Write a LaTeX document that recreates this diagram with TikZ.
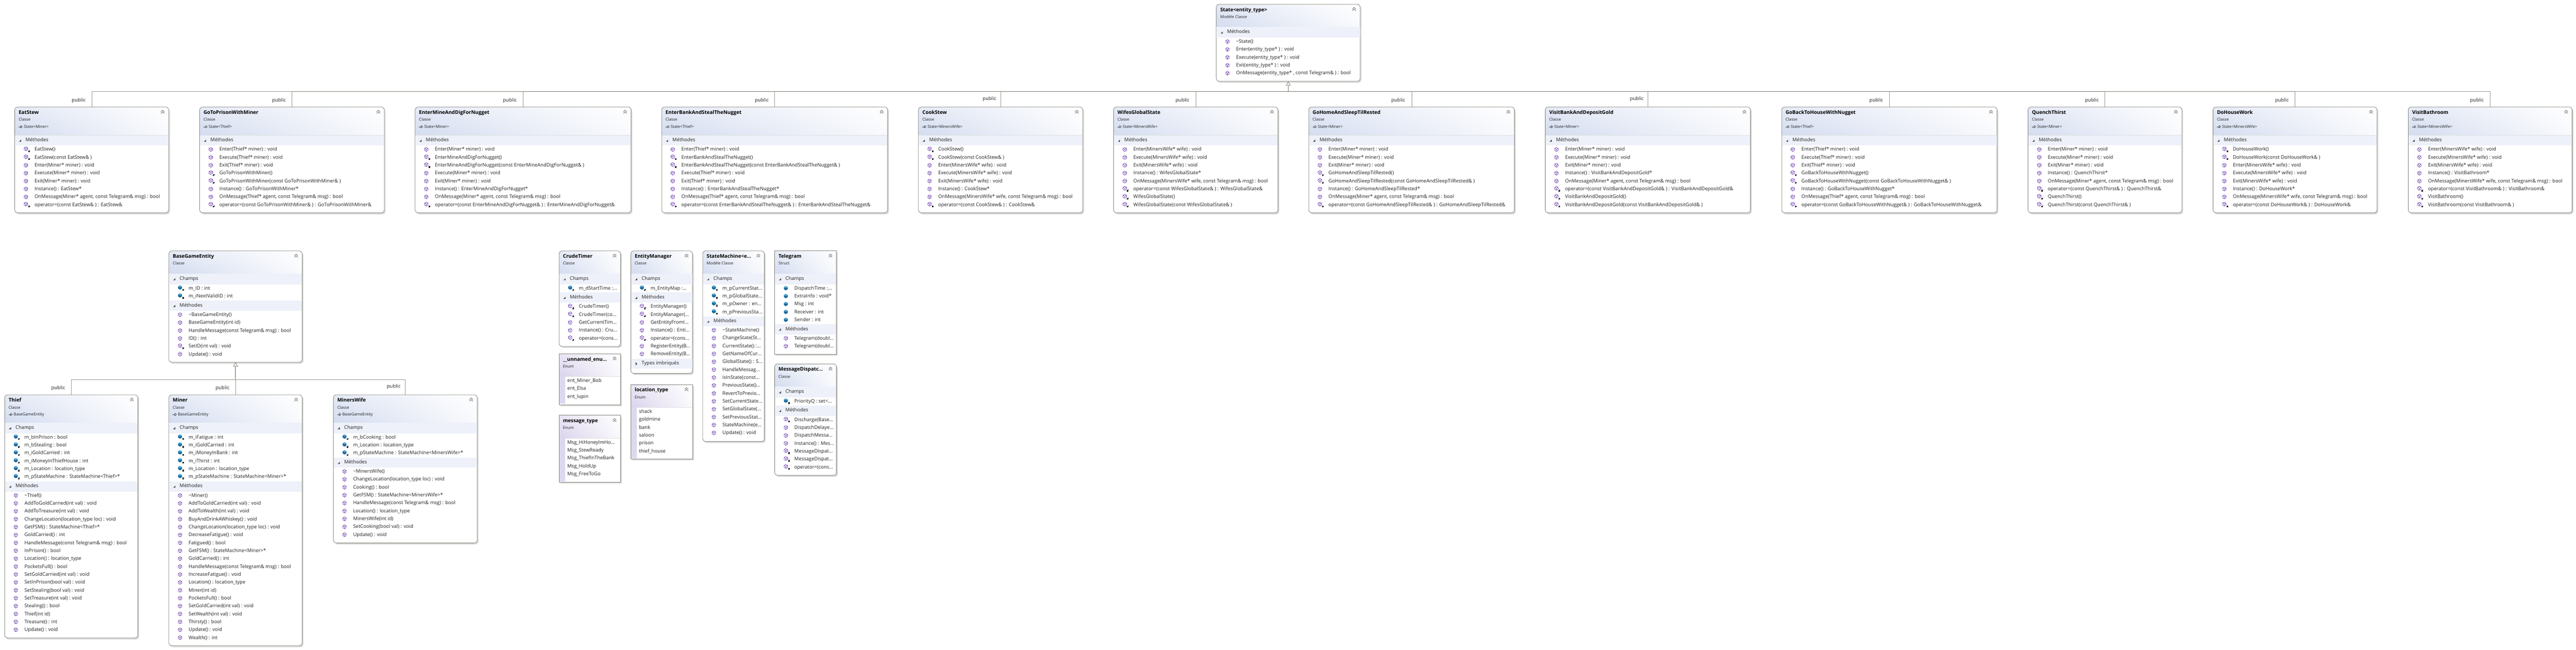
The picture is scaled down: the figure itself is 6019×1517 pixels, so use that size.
\documentclass[tikz,border=0pt]{standalone}
\usepackage{fontspec}
\setmainfont{Open Sans}
\usetikzlibrary{arrows.meta,shadings}
\definecolor{shadowc}{HTML}{D9D9D9}
\definecolor{borderc}{HTML}{85857C}
\definecolor{connc}{HTML}{7A7A70}
\definecolor{bandc}{HTML}{EEF1F9}
\definecolor{hdrblue}{HTML}{D3DCEF}
\definecolor{hdrbluemid}{HTML}{E5EAF6}
\definecolor{hdrlilac}{HTML}{DAD3EC}
\definecolor{hdrlilacmid}{HTML}{E9E5F4}
\definecolor{striplilac}{HTML}{DCD8EE}
\definecolor{methc}{HTML}{6A3AAE}
\definecolor{fieldc}{HTML}{14699F}
\definecolor{fieldl}{HTML}{5BA6D2}
\definecolor{txtc}{HTML}{202020}
\newcounter{tc}
\tikzset{
  x=1pt,y=-1pt,
  boxborder/.style={draw=borderc,line width=1pt,inner sep=0pt,outer sep=0pt},
  rowtext/.style={anchor=mid west,inner sep=0pt,text=txtc,font=\fontsize{11.4}{14}\selectfont},
  titletext/.style={anchor=mid west,inner sep=0pt,text=black,font=\fontsize{11.7}{14}\selectfont\bfseries},
  subtext/.style={anchor=mid west,inner sep=0pt,text=txtc,font=\fontsize{9.3}{12}\selectfont},
  pubtext/.style={anchor=center,inner sep=0pt,text=txtc,font=\fontsize{11.4}{14}\selectfont},
  conn/.style={draw=connc,line width=.9pt,draw opacity=.75},
  inherit/.style={conn,line width=1.4pt,draw opacity=1,-{Triangle[open,length=10pt,width=11pt,fill=white,line width=.9pt]}},
  micon/.style={draw=methc,line width=.8pt},
}
\newcommand\boxcore[9]{%
  \def\bxa{#2}\def\bya{#3}\def\bxb{#4}\def\byb{#5}%
  \pgfmathsetmacro\bw{#4-#2}\pgfmathsetmacro\bh{#5-#3}%
  \fill[shadowc,rounded corners=#7] (#2+3,#3+3.5) rectangle (#4+3,#5+3.5);
  \fill[white,rounded corners=#7] (#2,#3) rectangle (#4,#5);
  \begin{scope}
    \clip[rounded corners=#7] (#2,#3) rectangle (#4,#5);
    \shade[lower left=#8,upper left=#9,lower right=#9!25!white,upper right=white] (#2,#3) rectangle (#4,#6);
  \end{scope}
  \node[boxborder,rounded corners=#7,minimum width=\bw pt,minimum height=\bh pt] (#1) at ({(#2+#4)/2},{(#3+#5)/2}) {};
  \draw[black!12,line width=.6pt] (#2+.6,#6) -- (#4-.6,#6);
  \draw[black!55,line width=1.1pt] (#4-18,#3+11) -- (#4-14,#3+7.5) -- (#4-10,#3+11) (#4-18,#3+15) -- (#4-14,#3+11.5) -- (#4-10,#3+15);
}
\newcommand\tx[4]{\stepcounter{tc}\node[#1] (t\arabic{tc}) at (#2,#3) {#4};}
\newcommand\heading[2]{\tx{titletext}{\bxa+9}{\bya+14}{#1}\tx{subtext}{\bxa+9}{\bya+30}{#2}}
% rounded class box: name x1 y1 x2 y2 hdrbottom title sub
\newcommand\ubox[8]{\boxcore{#1}{#2}{#3}{#4}{#5}{#6}{7pt}{hdrblue}{hdrbluemid}\heading{#7}{#8}}
\newcommand\squarebox[8]{\boxcore{#1}{#2}{#3}{#4}{#5}{#6}{0pt}{hdrblue}{hdrbluemid}\heading{#7}{#8}}
\newcommand\enumbox[8]{\boxcore{#1}{#2}{#3}{#4}{#5}{#6}{0pt}{hdrlilac}{hdrlilacmid}%
  \fill[striplilac] (#2+.6,#6) rectangle (#2+14,#5-2);
  \heading{#7}{#8}\pgfmathsetmacro\cy{#6+11}}
\newcommand\inh[1]{%
  \draw[black!80,line width=.7pt] (\bxa+9,\bya+46) -- (\bxa+14,\bya+46);
  \draw[black!80,line width=.7pt] (\bxa+14,\bya+43) -- (\bxa+18,\bya+46) -- (\bxa+14,\bya+49) -- cycle;
  \tx{subtext}{\bxa+21}{\bya+46}{#1}}
\newcommand\band[3]{%
  \fill[bandc] (\bxa+.6,#1) rectangle (\bxb-.6,#2);
  \fill[black!70] (\bxa+10,{(#1+#2)/2+3}) -- (\bxa+15,{(#1+#2)/2+3}) -- (\bxa+15,{(#1+#2)/2-2}) -- cycle;
  \tx{rowtext}{\bxa+25}{{(#1+#2)/2}}{#3}\pgfmathsetmacro\cy{#2+10}}
\newcommand\bandc[3]{%
  \fill[bandc] (\bxa+.6,#1) rectangle (\bxb-.6,#2);
  \fill[black!70] (\bxa+11,{(#1+#2)/2-4}) -- (\bxa+15,{(#1+#2)/2}) -- (\bxa+11,{(#1+#2)/2+4}) -- cycle;
  \tx{rowtext}{\bxa+25}{{(#1+#2)/2}}{#3}}
\newcommand\methicon[2]{%
  \draw[micon,shift={(#1,#2)}] (0,-4.6) -- (4,-2.3) -- (4,2.3) -- (0,4.6) -- (-4,2.3) -- (-4,-2.3) -- cycle (-4,-2.3) -- (0,0) -- (4,-2.3) (0,0) -- (0,4.6);}
\newcommand\fieldicon[2]{%
  \fill[fieldc,shift={(#1,#2)}] (0,-5) -- (4.4,-2.5) -- (4.4,2.5) -- (0,5) -- (-4.4,2.5) -- (-4.4,-2.5) -- cycle;
  \fill[fieldl,shift={(#1,#2)}] (0,-5) -- (4.4,-2.5) -- (0,0) -- (-4.4,-2.5) -- cycle;}
\newcommand\lockicon[2]{%
  \fill[black!85,shift={(#1,#2)}] (-1.8,0) rectangle (1.8,2.8);
  \draw[black!85,line width=.5pt,shift={(#1,#2)}] (-1,0) -- (-1,-1.2) -- (1,-1.2) -- (1,0);}
\newcommand\nextrow{\pgfmathsetmacro\cy{\cy+18.45}}
\newcommand\rowM[1]{\methicon{\bxa+26}{\cy-1}\tx{rowtext}{\bxa+46}{\cy}{#1}\nextrow}
\newcommand\rowP[1]{\methicon{\bxa+26}{\cy-2.5}\lockicon{\bxa+33}{\cy+2.5}\tx{rowtext}{\bxa+46}{\cy}{#1}\nextrow}
\newcommand\rowF[1]{\fieldicon{\bxa+26}{\cy-1}\tx{rowtext}{\bxa+46}{\cy}{#1}\nextrow}
\newcommand\rowG[1]{\fieldicon{\bxa+26}{\cy-2.5}\lockicon{\bxa+33}{\cy+2.5}\tx{rowtext}{\bxa+46}{\cy}{#1}\nextrow}
\newcommand\rowE[1]{\tx{rowtext}{\bxa+19}{\cy}{#1}\nextrow}
\newcommand\topbox[6]{\ubox{#1}{#2}{250}{#3}{497}{316}{#4}{Classe}\inh{#5}\band{316}{340}{Méthodes}#6}
\newcommand\lbl[3]{\tx{pubtext}{#1}{#2}{#3}}
\begin{document}
\begin{tikzpicture}
\useasboundingbox (0,0) rectangle (6019,1517);
\fill[white] (0,0) rectangle (6019,1517);

% ---------- State template
\ubox{State}{2842}{10}{3178}{190}{63}{State<entity\_type>}{Modèle Classe}
\band{63}{88}{Méthodes}
\rowM{\textasciitilde State()}
\rowM{Enter(entity\_type* ) : void}
\rowM{Execute(entity\_type* ) : void}
\rowM{Exit(entity\_type* ) : void}
\rowM{OnMessage(entity\_type* , const Telegram\& ) : bool}

% ---------- concrete states
\topbox{EatStew}{34.5}{394}{EatStew}{State<Miner>}{%
\rowP{EatStew()}
\rowP{EatStew(const EatStew\& )}
\rowM{Enter(Miner* miner) : void}
\rowM{Execute(Miner* miner) : void}
\rowM{Exit(Miner* miner) : void}
\rowM{Instance() : EatStew*}
\rowM{OnMessage(Miner* agent, const Telegram\& msg) : bool}
\rowP{operator=(const EatStew\& ) : EatStew\&}}

\topbox{GoToPrison}{466.5}{898}{GoToPrisonWithMiner}{State<Thief>}{%
\rowM{Enter(Thief* miner) : void}
\rowM{Execute(Thief* miner) : void}
\rowM{Exit(Thief* miner) : void}
\rowP{GoToPrisonWithMiner()}
\rowP{GoToPrisonWithMiner(const GoToPrisonWithMiner\& )}
\rowM{Instance() : GoToPrisonWithMiner*}
\rowM{OnMessage(Thief* agent, const Telegram\& msg) : bool}
\rowP{operator=(const GoToPrisonWithMiner\& ) : GoToPrisonWithMiner\&}}

\topbox{EnterMine}{970}{1474.5}{EnterMineAndDigForNugget}{State<Miner>}{%
\rowM{Enter(Miner* miner) : void}
\rowP{EnterMineAndDigForNugget()}
\rowP{EnterMineAndDigForNugget(const EnterMineAndDigForNugget\& )}
\rowM{Execute(Miner* miner) : void}
\rowM{Exit(Miner* miner) : void}
\rowM{Instance() : EnterMineAndDigForNugget*}
\rowM{OnMessage(Miner* agent, const Telegram\& msg) : bool}
\rowP{operator=(const EnterMineAndDigForNugget\& ) : EnterMineAndDigForNugget\&}}

\topbox{EnterBank}{1546}{2074}{EnterBankAndStealTheNugget}{State<Thief>}{%
\rowM{Enter(Thief* miner) : void}
\rowP{EnterBankAndStealTheNugget()}
\rowP{EnterBankAndStealTheNugget(const EnterBankAndStealTheNugget\& )}
\rowM{Execute(Thief* miner) : void}
\rowM{Exit(Thief* miner) : void}
\rowM{Instance() : EnterBankAndStealTheNugget*}
\rowM{OnMessage(Thief* agent, const Telegram\& msg) : bool}
\rowP{operator=(const EnterBankAndStealTheNugget\& ) : EnterBankAndStealTheNugget\&}}

\topbox{CookStew}{2146}{2530}{CookStew}{State<MinersWife>}{%
\rowP{CookStew()}
\rowP{CookStew(const CookStew\& )}
\rowM{Enter(MinersWife* wife) : void}
\rowM{Execute(MinersWife* wife) : void}
\rowM{Exit(MinersWife* wife) : void}
\rowM{Instance() : CookStew*}
\rowM{OnMessage(MinersWife* wife, const Telegram\& msg) : bool}
\rowP{operator=(const CookStew\& ) : CookStew\&}}

\topbox{WifesGlobal}{2602}{2986}{WifesGlobalState}{State<MinersWife>}{%
\rowM{Enter(MinersWife* wife) : void}
\rowM{Execute(MinersWife* wife) : void}
\rowM{Exit(MinersWife* wife) : void}
\rowM{Instance() : WifesGlobalState*}
\rowM{OnMessage(MinersWife* wife, const Telegram\& msg) : bool}
\rowP{operator=(const WifesGlobalState\& ) : WifesGlobalState\&}
\rowP{WifesGlobalState()}
\rowP{WifesGlobalState(const WifesGlobalState\& )}}

\topbox{GoHome}{3058}{3538.5}{GoHomeAndSleepTilRested}{State<Miner>}{%
\rowM{Enter(Miner* miner) : void}
\rowM{Execute(Miner* miner) : void}
\rowM{Exit(Miner* miner) : void}
\rowP{GoHomeAndSleepTilRested()}
\rowP{GoHomeAndSleepTilRested(const GoHomeAndSleepTilRested\& )}
\rowM{Instance() : GoHomeAndSleepTilRested*}
\rowM{OnMessage(Miner* agent, const Telegram\& msg) : bool}
\rowP{operator=(const GoHomeAndSleepTilRested\& ) : GoHomeAndSleepTilRested\&}}

\topbox{VisitBank}{3610.6}{4090}{VisitBankAndDepositGold}{State<Miner>}{%
\rowM{Enter(Miner* miner) : void}
\rowM{Execute(Miner* miner) : void}
\rowM{Exit(Miner* miner) : void}
\rowM{Instance() : VisitBankAndDepositGold*}
\rowM{OnMessage(Miner* agent, const Telegram\& msg) : bool}
\rowP{operator=(const VisitBankAndDepositGold\& ) : VisitBankAndDepositGold\&}
\rowP{VisitBankAndDepositGold()}
\rowP{VisitBankAndDepositGold(const VisitBankAndDepositGold\& )}}

\topbox{GoBack}{4163}{4666}{GoBackToHouseWithNugget}{State<Thief>}{%
\rowM{Enter(Thief* miner) : void}
\rowM{Execute(Thief* miner) : void}
\rowM{Exit(Thief* miner) : void}
\rowP{GoBackToHouseWithNugget()}
\rowP{GoBackToHouseWithNugget(const GoBackToHouseWithNugget\& )}
\rowM{Instance() : GoBackToHouseWithNugget*}
\rowM{OnMessage(Thief* agent, const Telegram\& msg) : bool}
\rowP{operator=(const GoBackToHouseWithNugget\& ) : GoBackToHouseWithNugget\&}}

\topbox{Quench}{4738.7}{5098}{QuenchThirst}{State<Miner>}{%
\rowM{Enter(Miner* miner) : void}
\rowM{Execute(Miner* miner) : void}
\rowM{Exit(Miner* miner) : void}
\rowM{Instance() : QuenchThirst*}
\rowM{OnMessage(Miner* agent, const Telegram\& msg) : bool}
\rowP{operator=(const QuenchThirst\& ) : QuenchThirst\&}
\rowP{QuenchThirst()}
\rowP{QuenchThirst(const QuenchThirst\& )}}

\topbox{DoHouse}{5171}{5554}{DoHouseWork}{State<MinersWife>}{%
\rowP{DoHouseWork()}
\rowP{DoHouseWork(const DoHouseWork\& )}
\rowM{Enter(MinersWife* wife) : void}
\rowM{Execute(MinersWife* wife) : void}
\rowM{Exit(MinersWife* wife) : void}
\rowM{Instance() : DoHouseWork*}
\rowM{OnMessage(MinersWife* wife, const Telegram\& msg) : bool}
\rowP{operator=(const DoHouseWork\& ) : DoHouseWork\&}}

\topbox{VisitBath}{5627}{6010}{VisitBathroom}{State<MinersWife>}{%
\rowM{Enter(MinersWife* wife) : void}
\rowM{Execute(MinersWife* wife) : void}
\rowM{Exit(MinersWife* wife) : void}
\rowM{Instance() : VisitBathroom*}
\rowM{OnMessage(MinersWife* wife, const Telegram\& msg) : bool}
\rowP{operator=(const VisitBathroom\& ) : VisitBathroom\&}
\rowP{VisitBathroom()}
\rowP{VisitBathroom(const VisitBathroom\& )}}

% ---------- entity classes
\ubox{Base}{394.6}{586}{706}{846}{639}{BaseGameEntity}{Classe}
\band{639}{664}{Champs}
\rowG{m\_ID : int}
\rowG{m\_iNextValidID : int}
\band{702}{726}{Méthodes}
\rowM{\textasciitilde BaseGameEntity()}
\rowM{BaseGameEntity(int id)}
\rowM{HandleMessage(const Telegram\& msg) : bool}
\rowM{ID() : int}
\rowP{SetID(int val) : void}
\rowM{Update() : void}

\ubox{Thief}{11}{922}{322}{1490}{987}{Thief}{Classe}
\inh{BaseGameEntity}
\band{987}{1012}{Champs}
\rowG{m\_bInPrison : bool}
\rowG{m\_bStealing : bool}
\rowG{m\_iGoldCarried : int}
\rowG{m\_iMoneyInThiefHouse : int}
\rowG{m\_Location : location\_type}
\rowG{m\_pStateMachine : StateMachine<Thief>*}
\band{1124}{1148}{Méthodes}
\rowM{\textasciitilde Thief()}
\rowM{AddToGoldCarried(int val) : void}
\rowM{AddToTreasure(int val) : void}
\rowM{ChangeLocation(location\_type loc) : void}
\rowM{GetFSM() : StateMachine<Thief>*}
\rowM{GoldCarried() : int}
\rowM{HandleMessage(const Telegram\& msg) : bool}
\rowM{InPrison() : bool}
\rowM{Location() : location\_type}
\rowM{PocketsFull() : bool}
\rowM{SetGoldCarried(int val) : void}
\rowM{SetInPrison(bool val) : void}
\rowM{SetStealing(bool val) : void}
\rowM{SetTreasure(int val) : void}
\rowM{Stealing() : bool}
\rowM{Thief(int id)}
\rowM{Treasure() : int}
\rowM{Update() : void}

\ubox{Miner}{394.6}{922}{706}{1508}{987}{Miner}{Classe}
\inh{BaseGameEntity}
\band{987}{1012}{Champs}
\rowG{m\_iFatigue : int}
\rowG{m\_iGoldCarried : int}
\rowG{m\_iMoneyInBank : int}
\rowG{m\_iThirst : int}
\rowG{m\_Location : location\_type}
\rowG{m\_pStateMachine : StateMachine<Miner>*}
\band{1124}{1148}{Méthodes}
\rowM{\textasciitilde Miner()}
\rowM{AddToGoldCarried(int val) : void}
\rowM{AddToWealth(int val) : void}
\rowM{BuyAndDrinkAWhiskey() : void}
\rowM{ChangeLocation(location\_type loc) : void}
\rowM{DecreaseFatigue() : void}
\rowM{Fatigued() : bool}
\rowM{GetFSM() : StateMachine<Miner>*}
\rowM{GoldCarried() : int}
\rowM{HandleMessage(const Telegram\& msg) : bool}
\rowM{IncreaseFatigue() : void}
\rowM{Location() : location\_type}
\rowM{Miner(int id)}
\rowM{PocketsFull() : bool}
\rowM{SetGoldCarried(int val) : void}
\rowM{SetWealth(int val) : void}
\rowM{Thirsty() : bool}
\rowM{Update() : void}
\rowM{Wealth() : int}

\ubox{Wife}{779}{922}{1115}{1268}{987}{MinersWife}{Classe}
\inh{BaseGameEntity}
\band{987}{1012}{Champs}
\rowG{m\_bCooking : bool}
\rowG{m\_Location : location\_type}
\rowG{m\_pStateMachine : StateMachine<MinersWife>*}
\band{1069}{1092}{Méthodes}
\rowM{\textasciitilde MinersWife()}
\rowM{ChangeLocation(location\_type loc) : void}
\rowM{Cooking() : bool}
\rowM{GetFSM() : StateMachine<MinersWife>*}
\rowM{HandleMessage(const Telegram\& msg) : bool}
\rowM{Location() : location\_type}
\rowM{MinersWife(int id)}
\rowM{SetCooking(bool val) : void}
\rowM{Update() : void}

% ---------- utility classes
\ubox{Crude}{1306.4}{586}{1450}{809}{639}{CrudeTimer}{Classe}
\band{639}{664}{Champs}
\rowG{m\_dStartTime :...}
\band{683}{707}{Méthodes}
\rowP{CrudeTimer()}
\rowP{CrudeTimer(co...}
\rowM{GetCurrentTim...}
\rowM{Instance() : Cru...}
\rowP{operator=(cons...}

\ubox{EntityMgr}{1474}{586}{1618}{872}{639}{EntityManager}{Classe}
\band{639}{664}{Champs}
\rowG{m\_EntityMap :...}
\band{683}{707}{Méthodes}
\rowP{EntityManager()}
\rowP{EntityManager(...}
\rowM{GetEntityFromI...}
\rowM{Instance() : Enti...}
\rowP{operator=(cons...}
\rowM{RegisterEntity(B...}
\rowM{RemoveEntity(B...}
\bandc{838}{861}{Types imbriqués}

\ubox{StateMachine}{1642}{586}{1786}{1031}{639}{StateMachine<e...}{Modèle Classe}
\band{639}{664}{Champs}
\rowG{m\_pCurrentStat...}
\rowG{m\_pGlobalState...}
\rowG{m\_pOwner : en...}
\rowG{m\_pPreviousSta...}
\band{739}{762}{Méthodes}
\rowM{\textasciitilde StateMachine()}
\rowM{ChangeState(St...}
\rowM{CurrentState() :...}
\rowM{GetNameOfCur...}
\rowM{GlobalState() : S...}
\rowM{HandleMessag...}
\rowM{isInState(const...}
\rowM{PreviousState()...}
\rowM{RevertToPrevio...}
\rowM{SetCurrentState...}
\rowM{SetGlobalState(...}
\rowM{SetPreviousStat...}
\rowM{StateMachine(e...}
\rowM{Update() : void}

\squarebox{Telegram}{1810}{586}{1954.5}{827}{639}{Telegram}{Struct}
\band{639}{664}{Champs}
\rowF{DispatchTime :...}
\rowF{ExtraInfo : void*}
\rowF{Msg : int}
\rowF{Receiver : int}
\rowF{Sender : int}
\band{757}{781}{Méthodes}
\rowM{Telegram(doubl...}
\rowM{Telegram(doubl...}

\ubox{Dispatcher}{1810}{850}{1954.5}{1110}{903}{MessageDispatc...}{Classe}
\band{903}{928}{Champs}
\rowG{PriorityQ : set<...}
\band{947}{971}{Méthodes}
\rowP{Discharge(Base...}
\rowM{DispatchDelaye...}
\rowM{DispatchMessa...}
\rowM{Instance() : Mes...}
\rowP{MessageDispat...}
\rowP{MessageDispat...}
\rowP{operator=(cons...}

\enumbox{Unnamed}{1306.4}{826}{1450}{945}{879}{\_\_unnamed\_enu...}{Enum}
\rowE{ent\_Miner\_Bob}
\rowE{ent\_Elsa}
\rowE{ent\_lupin}

\enumbox{MsgType}{1306.4}{970}{1450}{1126}{1023}{message\_type}{Enum}
\rowE{Msg\_HiHoneyImHo...}
\rowE{Msg\_StewReady}
\rowE{Msg\_ThiefInTheBank}
\rowE{Msg\_HoldUp}
\rowE{Msg\_FreeToGo}

\enumbox{LocType}{1474}{898}{1618}{1072}{951}{location\_type}{Enum}
\rowE{shack}
\rowE{goldmine}
\rowE{bank}
\rowE{saloon}
\rowE{prison}
\rowE{thief\_house}

% ---------- inheritance connectors
\coordinate (topbus) at (3010,214);
\coordinate (botbus) at (550,886);
\foreach \c in {EatStew,GoToPrison,EnterMine,EnterBank,CookStew,WifesGlobal,GoHome,VisitBank,GoBack,Quench,DoHouse,VisitBath}
  \draw[conn] (\c.north) |- (topbus);
\draw[inherit] (topbus) -- (State.south);
\foreach \c in {Thief,Miner,Wife}
  \draw[conn] (\c.north) |- (botbus);
\draw[inherit] (botbus) -- (Base.south);

% ---------- connector labels
\lbl{184}{235}{public}
\lbl{652}{235}{public}
\lbl{1191.5}{235}{public}
\lbl{1780}{235}{public}
\lbl{2312}{231}{public}
\lbl{2763}{235}{public}
\lbl{3267}{235}{public}
\lbl{3824.5}{231}{public}
\lbl{4384}{235}{public}
\lbl{4888}{235}{public}
\lbl{5332}{235}{public}
\lbl{5787.5}{235}{public}
\lbl{136}{907}{public}
\lbl{520}{907}{public}
\lbl{920}{903}{public}
\end{tikzpicture}
\end{document}
